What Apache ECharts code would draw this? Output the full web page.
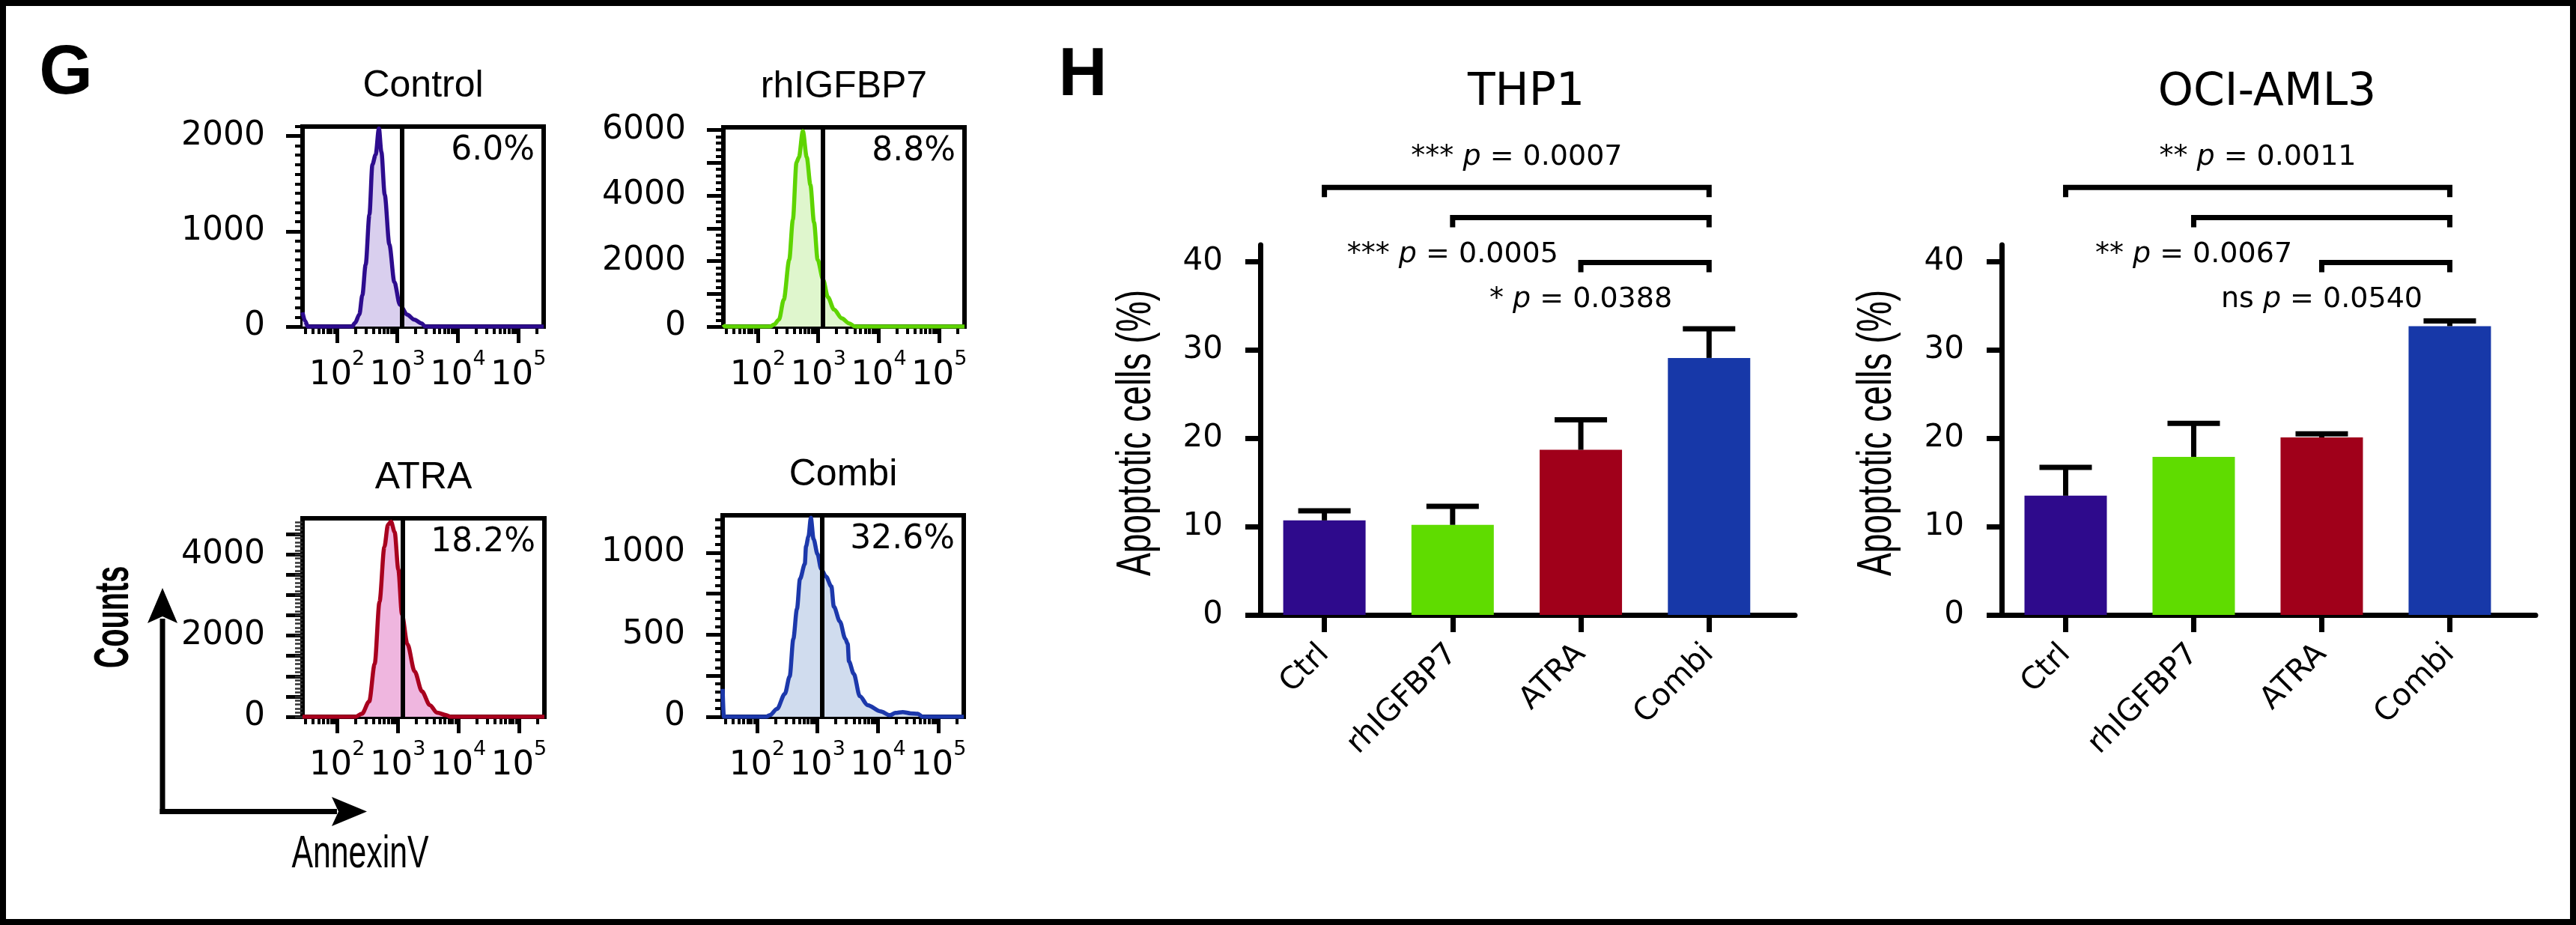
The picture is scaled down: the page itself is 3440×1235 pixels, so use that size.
<!DOCTYPE html>
<html><head><meta charset="utf-8">
<script src="https://cdn.jsdelivr.net/npm/echarts@6/dist/echarts.min.js"></script>
<style>html,body{margin:0;padding:0;background:#fff}#c{width:3440px;height:1235px}</style>
</head><body><div id="c"></div>
<script>
// ================= DATA =================
// Panel G: flow histograms, points are [log10(AnnexinV), counts]
const histPanels = ['Control', 'rhIGFBP7', 'ATRA', 'Combi'];
const histGatePct = ['6.0%', '8.8%', '18.2%', '32.6%'];
const gateLogAnnexin = 3.08;
const histControl = [[1.43,150],[1.47,60],[1.52,0],[2.25,0],[2.30,40],[2.37,126],[2.42,330],[2.475,651],[2.537,1176],[2.586,1700],[2.64,1806],[2.694,2081],[2.735,1834],[2.79,1386],[2.867,861],[2.95,467],[3.04,231],[3.16,126],[3.28,73],[3.40,34],[3.46,0],[5.42,0]];
const histRhIGFBP7 = [[1.43,60],[1.46,0],[2.2,0],[2.27,62],[2.35,213],[2.43,823],[2.52,2041],[2.58,3262],[2.64,5013],[2.68,5166],[2.745,5966],[2.81,5166],[2.87,4327],[2.93,3184],[2.99,2041],[3.08,1433],[3.16,898],[3.26,519],[3.39,251],[3.51,98],[3.61,0],[5.42,0]];
const histATRA = [[1.43,0],[2.30,0],[2.41,74],[2.53,379],[2.62,1299],[2.70,2834],[2.78,4182],[2.84,4734],[2.89,4808],[2.95,4550],[3.01,3630],[3.07,2526],[3.16,1790],[3.28,1115],[3.40,626],[3.53,287],[3.65,103],[3.80,42],[3.87,0],[5.42,0]];
const histCombi = [[1.43,170],[1.45,0],[2.15,0],[2.21,10],[2.33,48],[2.46,140],[2.54,247],[2.60,475],[2.66,657],[2.71,840],[2.79,931],[2.81,1038],[2.85,1098],[2.89,1213],[2.935,1083],[3.00,992],[3.06,901],[3.14,855],[3.23,794],[3.27,672],[3.37,581],[3.46,475],[3.50,444],[3.52,338],[3.60,262],[3.70,125],[3.83,71],[4.04,33],[4.20,10],[4.29,24],[4.41,29],[4.54,21],[4.66,18],[4.74,0],[5.42,0]];
const histYMax = [2100, 6080, 4890, 1228];
const histYTickLabels = [[0,1000,2000],[0,2000,4000,6000],[0,2000,4000],[0,500,1000]];
const histYMajorStep = [1000, 1000, 500, 250];
const histYMinorStep = [100, 200, 100, 50];
const histXDecades = [2, 3, 4, 5];
const histXRange = [1.43, 5.42];

// Panel H: bar charts
const barCategories = ['Ctrl', 'rhIGFBP7', 'ATRA', 'Combi'];
const thp1Mean = [10.7, 10.2, 18.7, 29.1];
const thp1Sem = [1.1, 2.1, 3.4, 3.3];
const ociMean = [13.5, 17.9, 20.1, 32.7];
const ociSem = [3.2, 3.8, 0.4, 0.6];
const barYTicks = [0, 10, 20, 30, 40];
const thp1CmpFrom = [0, 1, 2];
const thp1CmpStars = ['***', '***', '*'];
const thp1CmpP = ['0.0007', '0.0005', '0.0388'];
const ociCmpFrom = [0, 1, 2];
const ociCmpStars = ['**', '**', 'ns'];
const ociCmpP = ['0.0011', '0.0067', '0.0540'];
const cmpTo = 3;
const barYName = 'Apoptotic cells (%)';

// ================= STYLE / LAYOUT =================
const histSeriesData = [histControl, histRhIGFBP7, histATRA, histCombi];
const histLine = ['#2d0c8e', '#5ed400', '#a8001e', '#1c38ab'];
const histFill = ['#d9cfee', '#dff6cd', '#efb6df', '#d0dcee'];
const barColors = ['#2e0a8c', '#5fdc00', '#a0001a', '#1738a8'];
const histGrids = [
  {left:404, top:169, width:322, height:267},
  {left:966, top:170, width:322, height:266},
  {left:404, top:692, width:323, height:265},
  {left:965, top:688, width:322, height:269}
];
const barGrids = [
  {left:1683, top:327, width:714, height:494},
  {left:2673, top:327, width:713, height:494}
];
const barNameX = [1518, 2507];
const barTitles = ['THP1', 'OCI-AML3'];
const bracketLevels = [48.4, 45.0, 39.9];
const FW = "'DejaVu Sans', sans-serif";
const FA = "'Liberation Sans', Arial, sans-serif";

function steps(max, step){ const a=[]; for(let v=0; v<=max+1e-9; v+=step) a.push(v); return a; }
const histXMinor = [];
for (let d=1; d<=5; d++) for (let k=2; k<=9; k++){ const v=Math.log10(k*Math.pow(10,d)); if (v>histXRange[0] && v<histXRange[1]) histXMinor.push(v); }

const grid = [];
const xAxis = [];
const yAxis = [];
const series = [];

histGrids.forEach((g, i) => {
  grid.push(Object.assign({show:true, borderWidth:6, borderColor:'#000', backgroundColor:'transparent'}, g));
  xAxis.push({type:'value', gridIndex:i, position:'bottom', min:histXRange[0], max:histXRange[1],
    axisLine:{show:false, onZero:false}, splitLine:{show:false},
    axisTick:{show:true, customValues:histXDecades, length:22, lineStyle:{color:'#000', width:5}},
    axisLabel:{show:true, customValues:histXDecades, margin:30, color:'#000',
      formatter: v => '{b|10}{s|' + v + '}',
      rich:{ b:{fontSize:45, fontFamily:FW, color:'#000', lineHeight:58, verticalAlign:'bottom'},
             s:{fontSize:27, fontFamily:FW, color:'#000', lineHeight:27, verticalAlign:'top'} } }
  });
  xAxis.push({type:'value', gridIndex:i, position:'bottom', min:histXRange[0], max:histXRange[1],
    axisLine:{show:false, onZero:false}, splitLine:{show:false}, axisLabel:{show:false},
    axisTick:{show:true, customValues:histXMinor, length:10, lineStyle:{color:'#000', width:4}}
  });
  yAxis.push({type:'value', gridIndex:i, position:'left', min:0, max:histYMax[i],
    axisLine:{show:false, onZero:false}, splitLine:{show:false},
    axisTick:{show:true, customValues:steps(histYMax[i], histYMajorStep[i]), length:22, lineStyle:{color:'#000', width:5}},
    axisLabel:{show:true, customValues:histYTickLabels[i], margin:50, fontSize:44, fontFamily:FW, color:'#000',
      formatter: v => String(v)}
  });
  yAxis.push({type:'value', gridIndex:i, position:'left', min:0, max:histYMax[i],
    axisLine:{show:false, onZero:false}, splitLine:{show:false}, axisLabel:{show:false},
    axisTick:{show:true, customValues:steps(histYMax[i], histYMinorStep[i]), length:10,
      lineStyle:{color: i===2 ? '#333' : '#000', width: i===2 ? 2.5 : 4}}
  });
  series.push({type:'line', xAxisIndex:2*i, yAxisIndex:2*i, data:histSeriesData[i],
    smooth:0.3, smoothMonotone:'x', symbol:'none', z:3,
    lineStyle:{color:histLine[i], width:5.5}, areaStyle:{color:histFill[i], opacity:1},
    markLine:{silent:true, symbol:'none', label:{show:false}, animation:false,
      lineStyle:{color:'#000', width:6, type:'solid'}, data:[{xAxis:gateLogAnnexin}]}
  });
});

const barSets = [
  {mean:thp1Mean, sem:thp1Sem, from:thp1CmpFrom, stars:thp1CmpStars, p:thp1CmpP},
  {mean:ociMean, sem:ociSem, from:ociCmpFrom, stars:ociCmpStars, p:ociCmpP}
];
barGrids.forEach((g, j) => {
  const gi = 4 + j;
  const ai = 8 + j;
  grid.push(Object.assign({}, g));
  xAxis.push({type:'value', gridIndex:gi, position:'bottom', min:-0.5, max:3.67,
    axisLine:{show:true, onZero:false, lineStyle:{color:'#000', width:7}}, splitLine:{show:false},
    axisTick:{show:true, customValues:[0,1,2,3], length:23, lineStyle:{color:'#000', width:7}},
    axisLabel:{show:true, customValues:[0,1,2,3], rotate:45, margin:46, fontSize:41, fontFamily:FW, color:'#000',
      formatter: v => barCategories[Math.round(v)]}
  });
  yAxis.push({type:'value', gridIndex:gi, position:'left', min:0, max:41.9,
    axisLine:{show:true, onZero:false, lineStyle:{color:'#000', width:7}}, splitLine:{show:false},
    axisTick:{show:true, customValues:barYTicks, length:20, lineStyle:{color:'#000', width:7}},
    axisLabel:{show:true, customValues:barYTicks, margin:50, fontSize:42, fontFamily:FW, color:'#000'}
  });
  const s = barSets[j];
  series.push({type:'bar', xAxisIndex:ai, yAxisIndex:ai, barWidth:110, z:2,
    data: s.mean.map((v, i) => ({value:[i, v], itemStyle:{color:barColors[i]}}))
  });
  series.push({type:'custom', xAxisIndex:ai, yAxisIndex:ai, z:3, clip:false,
    data: s.mean.map((v, i) => [i, v, s.sem[i]]),
    encode:{x:0, y:1},
    renderItem:(params, api) => {
      const x = api.value(0), m = api.value(1), e = api.value(2);
      const p0 = api.coord([x, m]), p1 = api.coord([x, m + e]);
      return {type:'group', children:[
        {type:'line', shape:{x1:p0[0], y1:p0[1], x2:p1[0], y2:p1[1]}, style:{stroke:'#000', lineWidth:7}},
        {type:'line', shape:{x1:p1[0]-35, y1:p1[1], x2:p1[0]+35, y2:p1[1]}, style:{stroke:'#000', lineWidth:7}}
      ]};
    }
  });
  series.push({type:'custom', xAxisIndex:ai, yAxisIndex:ai, z:4, clip:false,
    data: s.from.map((f, k) => [f, cmpTo, k]),
    encode:{x:0},
    renderItem:(params, api) => {
      const f = api.value(0), t = api.value(1), k = api.value(2);
      const lv = bracketLevels[k];
      const a = api.coord([f, lv]), b = api.coord([t, lv]), lb = api.coord([f, lv - 1.1]);
      const tp = k === 0 ? api.coord([(f + t) / 2, lv + 3.4]) : api.coord([f, lv - 4.2]);
      return {type:'group', children:[
        {type:'polyline', shape:{points:[[a[0], lb[1]], a, b, [b[0], lb[1]]]},
          style:{stroke:'#000', lineWidth:7, fill:null, lineJoin:'miter'}},
        {type:'text', x:tp[0], y:tp[1], style:{
          text:'{n|' + s.stars[k] + ' }{i|p}{n| = ' + s.p[k] + '}',
          align:'center', verticalAlign:'middle', textAlign:'center', textVerticalAlign:'middle',
          rich:{ n:{fontSize:38, fontFamily:FW, fill:'#000'}, i:{fontSize:38, fontFamily:FW, fontStyle:'italic', fill:'#000'} }
        }}
      ]};
    }
  });
});

// ================= GRAPHIC DECORATIONS =================
const elements = [];
function txt(x, y, text, size, family, weight, align, extra){
  return Object.assign({type:'text', x:x, y:y, style:{text:text, fontSize:size, fontFamily:family, fontWeight:weight||'normal',
    fill:'#000', align:align||'center', verticalAlign:'middle', textAlign:align||'center', textVerticalAlign:'middle'}}, extra||{});
}
elements.push({type:'rect', shape:{x:4, y:4, width:3432, height:1227}, style:{fill:null, stroke:'#000', lineWidth:8}});
elements.push(txt(88, 100, 'G', 92, FA, 'bold'));
elements.push(txt(1446, 102, 'H', 90, FA, 'bold'));
histGrids.forEach((g, i) => {
  elements.push(txt(g.left + g.width/2, g.top - 54, histPanels[i], 50, FA));
  elements.push(txt(g.left + g.width - 12, g.top + 33, histGatePct[i], 44, FW, 'normal', 'right'));
});
barGrids.forEach((g, j) => {
  elements.push(txt(g.left + g.width/2 - 2, 124, barTitles[j], 60, FW));
  // condensed y-axis title
  elements.push(txt(barNameX[j], g.top + g.height/2 + 4, barYName, 65, FA, 'normal', 'center',
    {rotation:Math.PI/2, scaleX:0.71}));
});
// Counts / AnnexinV arrows
elements.push({type:'polyline', shape:{points:[[217,1087],[217,826]]}, style:{stroke:'#000', lineWidth:7, fill:null}});
elements.push({type:'polyline', shape:{points:[[213.5,1083.5],[450,1083.5]]}, style:{stroke:'#000', lineWidth:7, fill:null}});
elements.push({type:'polygon', shape:{points:[[217,785],[197,832],[217,823],[237,832]]}, style:{fill:'#000'}});
elements.push({type:'polygon', shape:{points:[[490,1083.5],[443,1064],[452,1083.5],[443,1103]]}, style:{fill:'#000'}});
elements.push(txt(153, 824, 'Counts', 64, FA, 'bold', 'center', {rotation:Math.PI/2, scaleX:0.62}));
elements.push(txt(481, 1141, 'AnnexinV', 62, FA, 'normal', 'center', {scaleX:0.69}));

const chart = echarts.init(document.getElementById('c'), null, {renderer:'canvas'});
chart.setOption({
  animation:false,
  backgroundColor:'#fff',
  grid:grid, xAxis:xAxis, yAxis:yAxis, series:series,
  graphic:{elements:elements}
});
</script></body></html>
